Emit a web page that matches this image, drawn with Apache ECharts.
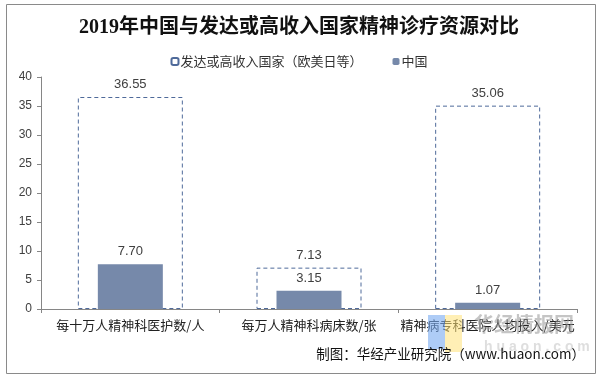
<!DOCTYPE html>
<html>
<head>
<meta charset="utf-8">
<script src="https://cdn.jsdelivr.net/npm/echarts@6/dist/echarts.min.js"></script>
<style>
html,body{margin:0;padding:0;background:#fff;}
#chart{width:598px;height:375px;}
</style>
</head>
<body>
<div id="chart"></div>
<script>
var categories = ['每十万人精神科医护数/人', '每万人精神科病床数/张', '精神病专科医院人均投入/美元'];
var developedValues = [36.55, 7.13, 35.06];
var chinaValues = [7.70, 3.15, 1.07];
var seriesNames = ['发达或高收入国家（欧美日等）', '中国'];
var yTicks = {min: 0, max: 40, interval: 5};

var chart = echarts.init(document.getElementById('chart'), null, {renderer: 'canvas'});
var labelStyle = {show: true, position: 'top', distance: 6, color: '#404040', fontSize: 13, fontFamily: 'Liberation Sans, Arial', formatter: function (p) { return p.value.toFixed(2); }};
chart.setOption({
  backgroundColor: '#fff',
  animation: false,
  title: {
    text: '2019年中国与发达或高收入国家精神诊疗资源对比',
    left: 'center',
    top: 13,
    textStyle: {fontFamily: 'Liberation Serif, "Noto Sans CJK SC"', fontWeight: 'bold', fontSize: 20, color: '#111'}
  },
  legend: {
    top: 50,
    left: 'center',
    itemWidth: 7,
    itemHeight: 7,
    itemGap: 30,
    textStyle: {fontSize: 13, color: '#333', fontFamily: '"Noto Sans CJK SC"', padding: [0, 0, 0, -3]},
    data: seriesNames
  },
  grid: {left: 41, right: 21, top: 77, bottom: 66, containLabel: false},
  xAxis: [
    {
      type: 'category',
      data: categories,
      z: 10,
      axisLine: {lineStyle: {color: '#868686'}},
      axisTick: {show: true, length: 4, lineStyle: {color: '#868686'}},
      axisLabel: {color: '#222', fontSize: 13, fontFamily: '"Noto Sans CJK SC"', margin: 10, interval: 0}
    },
    {
      type: 'category',
      data: categories,
      show: false,
      position: 'bottom'
    }
  ],
  yAxis: {
    type: 'value',
    min: yTicks.min,
    max: yTicks.max,
    interval: yTicks.interval,
    z: 10,
    splitLine: {show: false},
    axisLine: {show: true, lineStyle: {color: '#868686'}},
    axisTick: {show: true, length: 4, lineStyle: {color: '#868686'}},
    axisLabel: {color: '#404040', fontSize: 12, fontFamily: 'Liberation Sans, Arial', margin: 9}
  },
  series: [
    {
      name: seriesNames[0],
      type: 'bar',
      xAxisIndex: 0,
      data: developedValues,
      barWidth: 105,
      itemStyle: {color: '#ffffff', borderColor: '#4f6a9a', borderWidth: 1, borderType: [4, 3]},
      label: labelStyle,
      z: 2
    },
    {
      name: seriesNames[1],
      type: 'bar',
      xAxisIndex: 1,
      data: chinaValues,
      barWidth: 65,
      itemStyle: {color: '#7689aa'},
      label: labelStyle,
      z: 3
    }
  ],
  graphic: [
    {type: 'rect', left: 4, top: 2, shape: {width: 589, height: 369}, style: {fill: 'none', stroke: '#8a8a8a', lineWidth: 1}, silent: true, z: 0},
    {type: 'rect', left: 428, top: 315, shape: {width: 17, height: 34}, style: {fill: 'rgba(120,170,240,0.6)'}, z: 100},
    {type: 'rect', left: 445, top: 315, shape: {width: 17, height: 37}, style: {fill: 'rgba(255,225,120,0.55)'}, z: 100},
    {type: 'text', left: 474, top: 314, style: {text: '华经情报网', fill: 'rgba(150,150,150,0.55)', font: 'bold 20px "Noto Sans CJK SC"'}, z: 100},
    {type: 'text', left: 484, top: 340, style: {text: 'h u a o n . c o m', fill: 'rgba(190,190,190,0.5)', font: 'bold 14px Liberation Sans'}, z: 100},
    {type: 'text', right: 13, top: 347, style: {text: '制图：华经产业研究院（www.huaon.com）', fill: '#111', font: '13.5px "Noto Sans CJK SC"'}, z: 101}
  ]
});
</script>
</body>
</html>
